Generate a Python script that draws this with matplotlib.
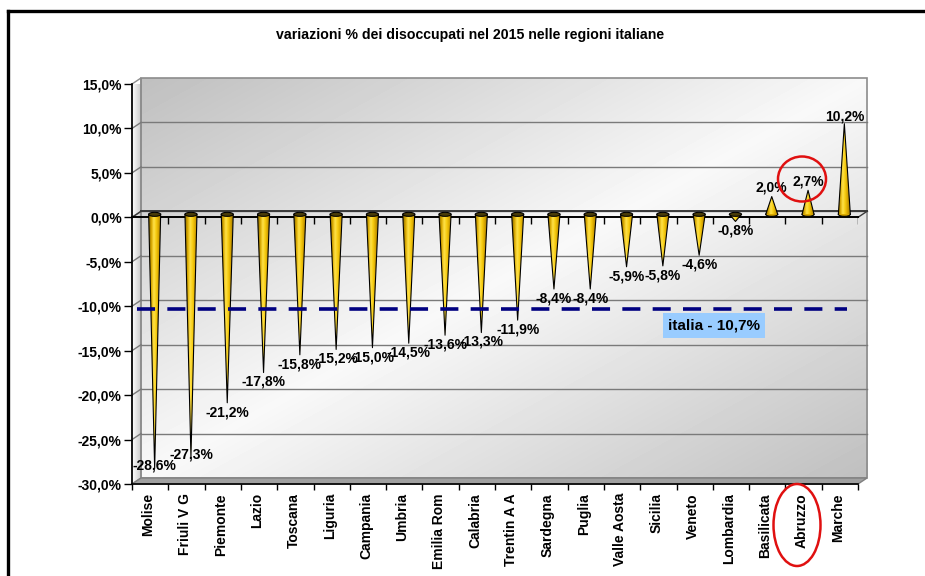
import numpy as np
import matplotlib
matplotlib.use('Agg')
import matplotlib.pyplot as plt
from matplotlib.patches import Polygon, Ellipse, Rectangle
from matplotlib.colors import LinearSegmentedColormap
from matplotlib.lines import Line2D

plt.rcParams['font.family'] = ['Liberation Sans', 'DejaVu Sans']
plt.rcParams['font.weight'] = 'bold'

# --- Data ---
regions = ['Molise', 'Friuli V G', 'Piemonte', 'Lazio', 'Toscana', 'Liguria',
           'Campania', 'Umbria', 'Emilia Rom', 'Calabria', 'Trentin A A',
           'Sardegna', 'Puglia', 'Valle Aosta', 'Sicilia', 'Veneto',
           'Lombardia', 'Basilicata', 'Abruzzo', 'Marche']
variations = [-28.6, -27.3, -21.2, -17.8, -15.8, -15.2, -15.0, -14.5, -13.6,
              -13.3, -11.9, -8.4, -8.4, -5.9, -5.8, -4.6, -0.8, 2.0, 2.7, 10.2]
italia_value = -10.7
title = 'variazioni % dei disoccupati nel 2015 nelle regioni italiane'
y_ticks = [15, 10, 5, 0, -5, -10, -15, -20, -25, -30]

# --- Layout (pixels) ---
W, H = 925, 576
AX_L, AX_R, AX_T, AX_B = 132, 858, 84, 484
YMIN, YMAX = -30, 15
N = len(regions)

def pct(v):
    return f'{v:.1f}%'.replace('.', ',')

fig = plt.figure(figsize=(W / 100, H / 100), dpi=100)
ax = fig.add_axes([AX_L / W, (H - AX_B) / H, (AX_R - AX_L) / W, (AX_B - AX_T) / H])

# pixel -> data unit conversion
ux = N / (AX_R - AX_L)
uy = (YMAX - YMIN) / (AX_B - AX_T)
BX, BY = 9 * ux, 6 * uy          # depth offset of back wall

# --- Back wall with diagonal gradient ---
nx, ny = 200, 120
xn, yn = np.meshgrid(np.linspace(0, 1, nx), np.linspace(0, 1, ny))
wall = 0.975 - (0.975 - 0.75) * np.abs(xn - yn)
im = ax.imshow(wall, extent=(BX, N + BX, YMIN + BY, YMAX + BY), origin='lower',
               cmap='gray', vmin=0, vmax=1, aspect='auto', zorder=0, interpolation='bilinear')
im.set_clip_on(False)
ax.add_patch(Rectangle((BX, YMIN + BY), N, YMAX - YMIN, fill=False,
                       edgecolor='#8c8c8c', lw=1.2, zorder=1, clip_on=False))

# left side wall
side = Polygon([(0, YMIN), (BX, YMIN + BY), (BX, YMAX + BY), (0, YMAX)], closed=True,
               facecolor='none', edgecolor='#8c8c8c', lw=1, zorder=1, clip_on=False)
ax.add_patch(side)
sg = ax.imshow(np.linspace(1.0, 0.8, 20).reshape(1, -1), extent=(0, BX, YMIN, YMAX + BY),
               cmap='gray', vmin=0, vmax=1, aspect='auto', zorder=0.5)
sg.set_clip_path(side)

# gridlines on the back wall + diagonals on the side wall
for g in y_ticks[1:-1]:
    ax.plot([BX, N + BX], [g + BY, g + BY], color='#7a7a7a', lw=1, zorder=1, clip_on=False)
    ax.plot([0, BX], [g, g + BY], color='#7a7a7a', lw=1, zorder=1, clip_on=False)

# floor
ax.add_patch(Polygon([(0, YMIN), (N, YMIN), (N + BX, YMIN + BY), (BX, YMIN + BY)], closed=True,
                     facecolor='#a0a0a0', edgecolor='#808080', lw=1, zorder=1.2, clip_on=False))

# zero plate
ax.plot([BX, N + BX], [BY, BY], color='#3a3a3a', lw=1.4, zorder=1.5, clip_on=False)
ax.plot([0, BX], [0, BY], color='#3a3a3a', lw=1, zorder=1.5, clip_on=False)
ax.plot([N, N + BX], [0, BY], color='#3a3a3a', lw=1, zorder=1.5, clip_on=False)
ax.plot([0, N], [0, 0], color='black', lw=1.4, zorder=1.6, clip_on=False)
ax.vlines(np.arange(1, N + 1), -7 * uy, 0, color='black', lw=1, zorder=1.6)

# --- Cones ---
cone_cmap = LinearSegmentedColormap.from_list(
    'cone', ['#8a6c00', '#d9a800', '#ffe24a', '#f7cc10', '#d6a400', '#a88200'])
grad = np.linspace(0, 1, 64).reshape(1, -1)
hw = 6 * ux
cap_h = 4 * uy
for i, v in enumerate(variations):
    cx = i + 0.5 + BX / 2
    base = BY / 2
    tip = v + BY / 2
    tri = Polygon([(cx - hw, base), (cx + hw, base), (cx, tip)], closed=True,
                  facecolor='none', edgecolor='none', zorder=3)
    ax.add_patch(tri)
    if v > 0:
        ax.add_patch(Ellipse((cx, base), 2 * hw, cap_h, facecolor='#d9a800',
                             edgecolor='black', lw=0.8, zorder=2.9))
    g = ax.imshow(grad, extent=(cx - hw, cx + hw, min(base, tip), max(base, tip)),
                  cmap=cone_cmap, aspect='auto', zorder=3, interpolation='bilinear')
    g.set_clip_path(tri)
    ax.plot([cx - hw, cx, cx + hw], [base, tip, base], color='black', lw=0.8, zorder=3.1)
    if v < 0:
        ax.add_patch(Ellipse((cx, base), 2 * hw, cap_h, facecolor='#4a3c08',
                             edgecolor='black', lw=0.8, zorder=3.2))
        ly = v - 1.05 if v > -25 else v + 0.3
    else:
        ly = min(v + 1.05, 11.0)
    ax.text(cx, ly + BY / 2, pct(v), ha='center', va='center', fontsize=10,
            fontweight='bold', zorder=5)

# --- Italia reference line ---
ax.plot([5 * ux, N - 11 * ux], [italia_value + BY / 2] * 2, color='#000080', lw=2.6,
        dashes=(5, 3.4), zorder=4, clip_on=False)
box_x0, box_y0, box_w, box_h = 663, 313, 102, 25
fig.patches.append(Rectangle((box_x0 / W, 1 - (box_y0 + box_h) / H), box_w / W, box_h / H,
                             transform=fig.transFigure, facecolor='#99ccff', edgecolor='none',
                             zorder=4))
fig.text((box_x0 + box_w / 2) / W, 1 - (box_y0 + box_h / 2) / H,
         'italia - ' + pct(abs(italia_value)), ha='center', va='center',
         fontsize=11, fontweight='bold', zorder=5)

# --- Axes styling ---
ax.set_xlim(0, N)
ax.set_ylim(YMIN, YMAX)
for s in ['top', 'right']:
    ax.spines[s].set_visible(False)
ax.spines['left'].set_color('black')
ax.spines['left'].set_linewidth(1.2)
ax.spines['bottom'].set_color('black')
ax.spines['bottom'].set_linewidth(1.2)
ax.spines['left'].set_zorder(6)
ax.spines['bottom'].set_zorder(6)
ax.set_yticks(y_ticks)
ax.set_yticklabels([pct(t) for t in y_ticks], fontsize=10, fontweight='bold')
ax.tick_params(axis='y', length=5.8, width=1, pad=1.5, direction='out')
ax.set_xticks(np.arange(N) + 0.45)
ax.set_xticklabels(regions, rotation=90, fontsize=10, fontweight='bold', va='top')
ax.set_xticks(np.arange(N + 1), minor=True)
ax.tick_params(axis='x', which='major', length=0, pad=6.5)
ax.tick_params(axis='x', which='minor', length=4.5, width=1, direction='out')
ax.set_facecolor('none')

# --- Title ---
fig.text(470 / W, 1 - 35 / H, title, ha='center', va='center', fontsize=10.2, fontweight='bold')

# --- Red circles ---
fig.patches.append(Ellipse((802 / W, 1 - 179 / H), 48 / W, 45 / H, transform=fig.transFigure,
                           fill=False, edgecolor='#e01010', lw=1.8, zorder=10))
fig.patches.append(Ellipse((797 / W, 1 - 525 / H), 47 / W, 82 / H, transform=fig.transFigure,
                           fill=False, edgecolor='#e01010', lw=1.8, zorder=10))

# --- Outer border (left and top visible) ---
fig.lines.append(Line2D([8 / W, 8 / W], [0, 1 - 11 / H], transform=fig.transFigure,
                        color='black', lw=2.4))
fig.lines.append(Line2D([8 / W, 1], [1 - 11 / H, 1 - 11 / H], transform=fig.transFigure,
                        color='black', lw=2.4))

fig.savefig('out.png', dpi=100)
